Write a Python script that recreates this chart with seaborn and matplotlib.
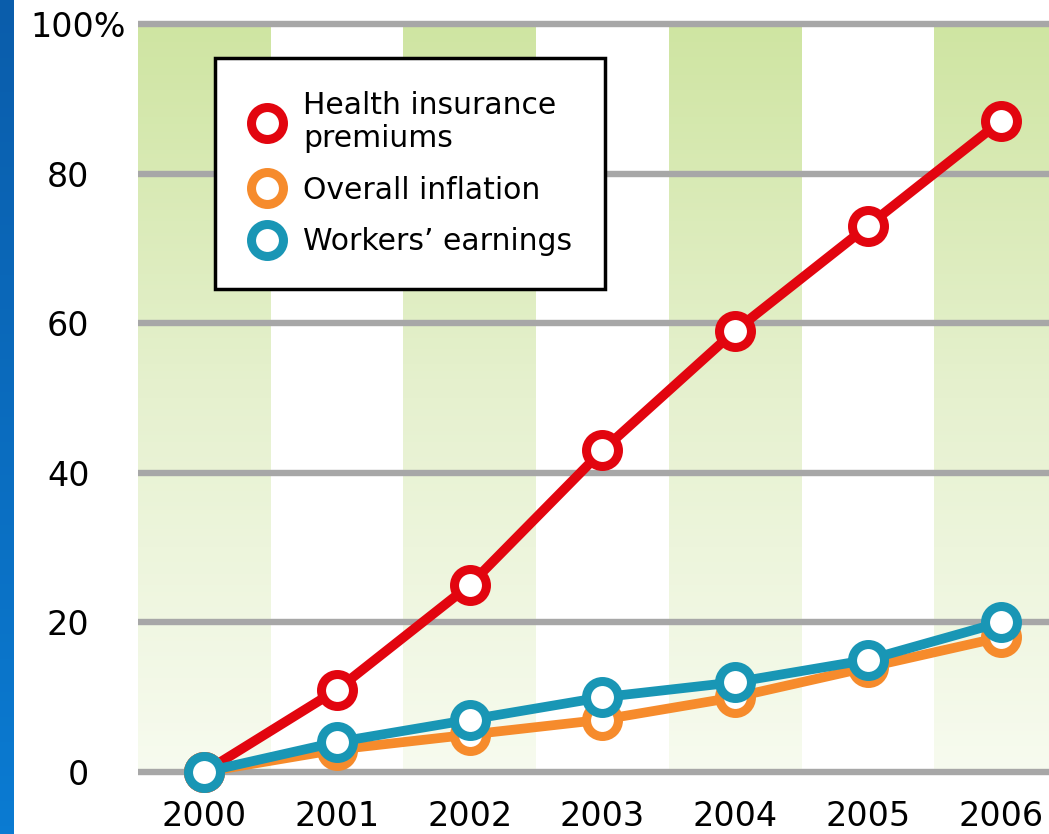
import numpy as np
import pandas as pd
import matplotlib.pyplot as plt
import seaborn as sns
from matplotlib.lines import Line2D
from matplotlib.colors import LinearSegmentedColormap

# values (% growth since 2000)
years = [2000, 2001, 2002, 2003, 2004, 2005, 2006]
health = [0, 11, 25, 43, 59, 73, 87]
inflation = [0, 3, 5, 7, 10, 14, 18]
earnings = [0, 4, 7, 10, 12, 15, 20]
series_names = ['Health insurance\npremiums', 'Overall inflation', 'Workers\u2019 earnings']
colors = ['#e2050f', '#f68b2c', '#1996b5']
yticks = [0, 20, 40, 60, 80, 100]
ylabels = ['0', '20', '40', '60', '80', '']
top_label = '100%'

df = pd.DataFrame({
    'pos': list(range(len(years))) * 3,
    'value': health + inflation + earnings,
    'series': np.repeat(series_names, len(years)),
})

sns.set_style('white')
plt.rcParams['font.family'] = ['DejaVu Sans']
plt.rcParams['text.color'] = 'black'
plt.rcParams['xtick.color'] = 'black'
plt.rcParams['ytick.color'] = 'black'

fig = plt.figure(figsize=(10.49, 8.34), dpi=100)
fig.patch.set_facecolor('white')

# blue strip on the left edge
bax = fig.add_axes([0, 0, 14 / 1049, 1])
blue = LinearSegmentedColormap.from_list('blue', ['#0a5dab', '#0a7bd2'])
bax.imshow(np.linspace(0, 1, 100).reshape(-1, 1), cmap=blue, aspect='auto')
bax.axis('off')

ax = fig.add_axes([138 / 1049, 1 - 776.5 / 834, 1 - 138 / 1049, 757 / 834])

# alternating green gradient columns
green = LinearSegmentedColormap.from_list('green', ['#f7fbef', '#e6f1cf', '#cfe5a2'])
grad = np.linspace(0, 1, 200).reshape(-1, 1)
for i in range(0, len(years), 2):
    ax.imshow(grad, extent=(i - 0.5, i + 0.5, 0, 100), origin='lower',
              cmap=green, aspect='auto', zorder=0.2)

for name, color in zip(series_names, colors):
    sns.lineplot(data=df[df['series'] == name], x='pos', y='value', ax=ax,
                 color=color, linewidth=7, marker='o', markersize=23,
                 markerfacecolor='white', markeredgecolor=color,
                 markeredgewidth=6.5, zorder=3, clip_on=False)

ax.set_xlim(-0.5, 6.365)
ax.set_ylim(-0.6, 100.6)
ax.set_xlabel('')
ax.set_ylabel('')
ax.set_xticks(range(len(years)), labels=[str(y) for y in years])
ax.set_yticks(yticks, labels=ylabels)
ax.grid(axis='y', color='#a7a7a7', linewidth=4.6)
ax.grid(axis='x', visible=False)
ax.set_axisbelow(True)
for s in ax.spines.values():
    s.set_visible(False)
ax.tick_params(axis='both', length=0, labelsize=24)
ax.tick_params(axis='y', pad=35)
ax.tick_params(axis='x', pad=17)
ax.annotate(top_label, xy=(0, yticks[-1]), xycoords=ax.get_yaxis_transform(),
            xytext=(-9, 0), textcoords='offset points',
            ha='right', va='center_baseline', fontsize=24)

handles = [Line2D([], [], ls='none', marker='o', markersize=23,
                  markerfacecolor='white', markeredgecolor=c, markeredgewidth=6.5)
           for c in colors]
leg = ax.legend(handles, series_names, loc='upper left',
                bbox_to_anchor=(215 / 1049, 1 - 58 / 834),
                bbox_transform=fig.transFigure, frameon=True, fancybox=False,
                edgecolor='black', framealpha=1, fontsize=21.5,
                handlelength=1.3, handletextpad=0.55, borderpad=1.1,
                labelspacing=0.75, borderaxespad=0)
leg.get_frame().set_linewidth(2.5)
leg.set_zorder(5)

fig.savefig('out.png', dpi=100)
